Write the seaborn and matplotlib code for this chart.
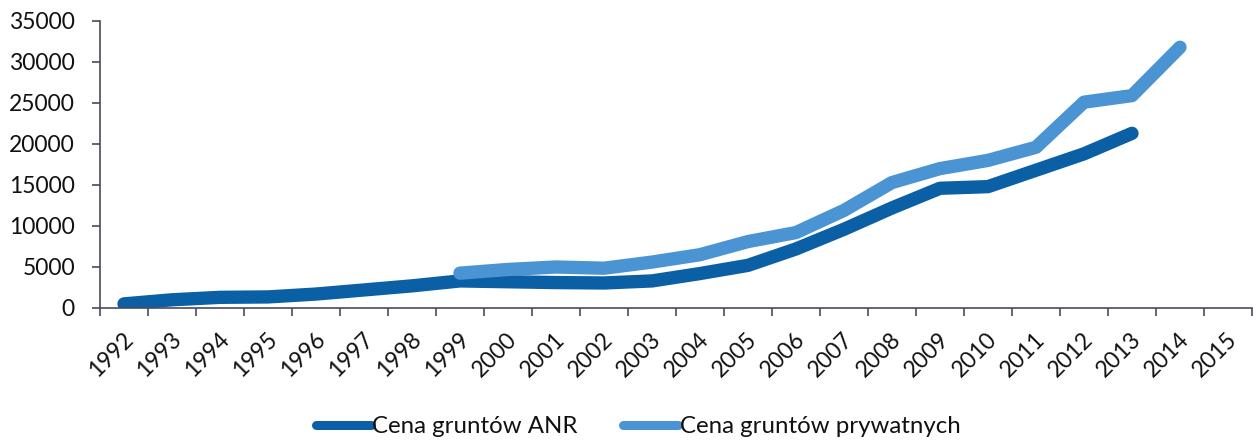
import numpy as np
import pandas as pd
import seaborn as sns
import matplotlib.pyplot as plt
import matplotlib.transforms as mtransforms
from matplotlib.lines import Line2D
from matplotlib.ticker import FixedLocator

# Average land prices (PLN/ha)
years = list(range(1992, 2016))
anr_years = list(range(1992, 2014))
anr_price = [500, 1000, 1300, 1350, 1700, 2200, 2700, 3300, 3200, 3100, 3050,
             3300, 4200, 5200, 7200, 9600, 12200, 14600, 14800, 16800, 18800, 21300]
priv_years = list(range(1999, 2015))
priv_price = [4250, 4700, 5000, 4850, 5600, 6500, 8100, 9200, 11900, 15300,
              17000, 18000, 19600, 25100, 25900, 31800]

series_names = ["Cena gruntów ANR", "Cena gruntów prywatnych"]
series_colors = ["#0b5fa5", "#4a94d3"]

df = pd.concat([
    pd.DataFrame({"rok": anr_years, "cena": anr_price, "seria": series_names[0]}),
    pd.DataFrame({"rok": priv_years, "cena": priv_price, "seria": series_names[1]}),
])

sns.set_theme(style="white")
plt.rcParams["font.family"] = ["Lato", "DejaVu Sans"]
plt.rcParams["text.color"] = "#111111"
plt.rcParams["xtick.labelcolor"] = "#111111"
plt.rcParams["ytick.labelcolor"] = "#111111"

fig = plt.figure(figsize=(12.56, 4.41), dpi=100)
ax = fig.add_axes([0.0796, 0.3016, 0.9172, 0.6508])

lw = 9.6
sns.lineplot(data=df, x="rok", y="cena", hue="seria", palette=series_colors,
             hue_order=series_names, linewidth=lw, legend=False, ax=ax,
             solid_capstyle="round", solid_joinstyle="round")

axis_color = "#4a4a5e"
fs = 16.5

ax.set_xlim(years[0] - 0.5, years[-1] + 0.5)
ax.set_ylim(0, 35000)
ax.set_yticks(np.arange(0, 35001, 5000))
ax.set_xticks(years)
ax.set_xticklabels([str(y) for y in years], rotation=45, ha="right", va="center",
                   rotation_mode="anchor", fontsize=fs)
ax.xaxis.set_minor_locator(FixedLocator(np.arange(years[0] - 0.5, years[-1] + 1, 1)))
ax.tick_params(axis="x", which="major", length=0, pad=20)
ax.tick_params(axis="x", which="minor", length=6, width=1.2, color=axis_color,
               direction="out", bottom=True)
ax.tick_params(axis="y", which="major", length=6, width=1.2, color=axis_color,
               direction="out", left=True, labelsize=fs, pad=12)
shift = mtransforms.ScaledTranslation(6 / 100, 0, fig.dpi_scale_trans)
for lbl in ax.get_xticklabels():
    lbl.set_transform(lbl.get_transform() + shift)
ax.set_xlabel("")
ax.set_ylabel("")

for side in ["top", "right"]:
    ax.spines[side].set_visible(False)
for side in ["left", "bottom"]:
    ax.spines[side].set_color(axis_color)
    ax.spines[side].set_linewidth(1.2)

handles = [Line2D([0], [0], color=c, linewidth=6.5, solid_capstyle="round")
           for c in series_colors]
fig.legend(handles, series_names, loc="center", bbox_to_anchor=(0.508, 0.032),
           ncol=2, frameon=False, fontsize=17.3, handlelength=2.3,
           handletextpad=0.05, columnspacing=1.9)

fig.savefig("out.png", dpi=100)
